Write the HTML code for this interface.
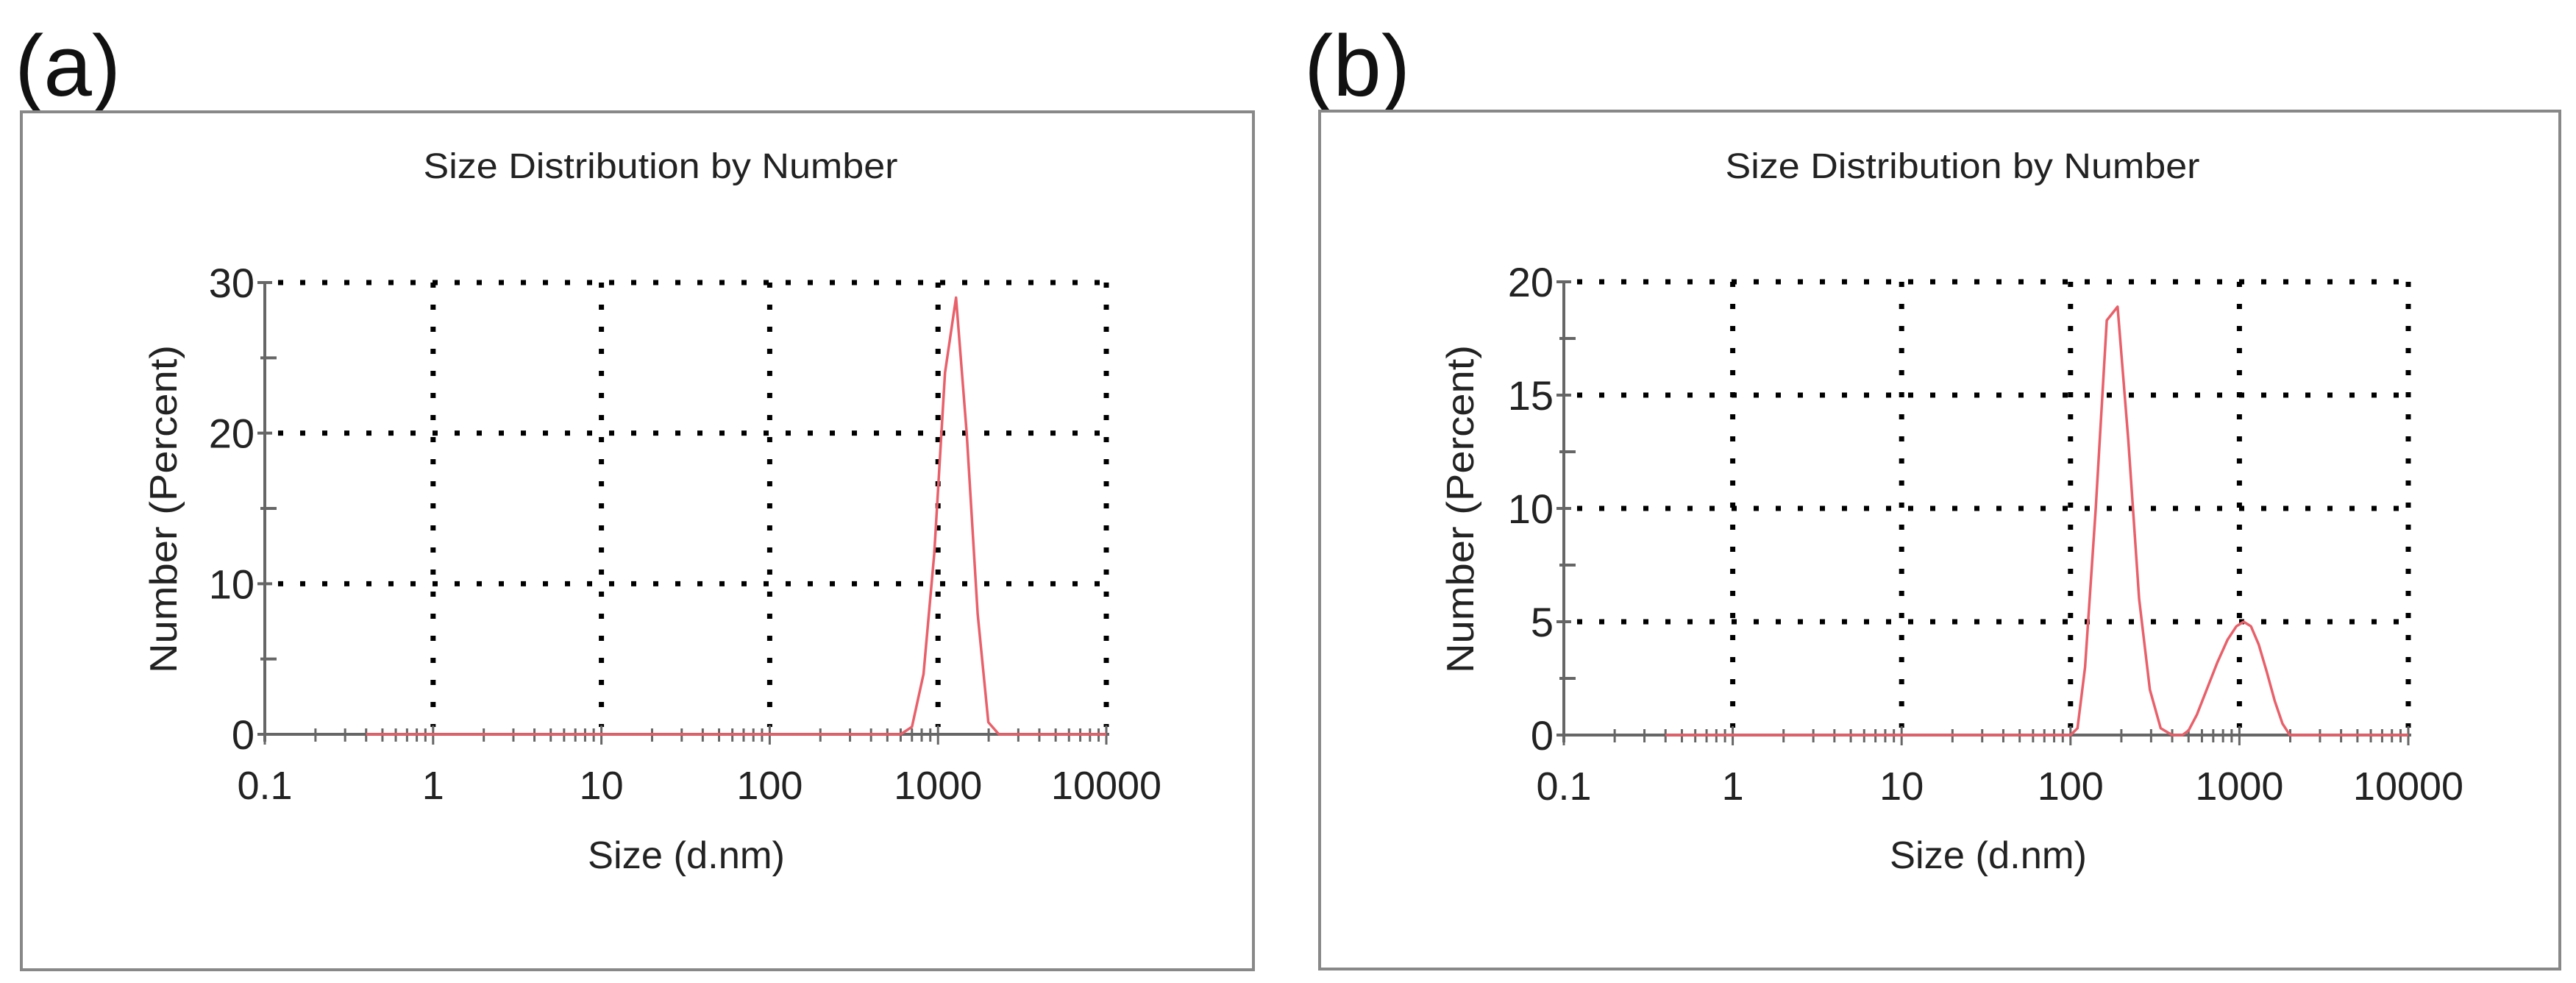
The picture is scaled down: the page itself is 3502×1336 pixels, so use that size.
<!DOCTYPE html>
<html><head><meta charset="utf-8">
<style>
html,body{margin:0;padding:0;background:#fff;}
svg{display:block;}
text{font-family:"Liberation Sans",Arial,sans-serif;fill:#222;}
</style></head>
<body>
<svg id="fig" width="3502" height="1336" viewBox="0 0 3502 1336" xmlns="http://www.w3.org/2000/svg">
  <text x="20" y="130" font-size="118" style="font-family:'Liberation Sans',sans-serif;fill:#111">(a)</text>
  <text x="1773" y="130" font-size="118" style="font-family:'Liberation Sans',sans-serif;fill:#111">(b)</text>
  <rect x="29" y="152" width="1675" height="1166" fill="#fff" stroke="#888" stroke-width="4"/>
  <rect x="1794" y="151" width="1686" height="1166" fill="#fff" stroke="#888" stroke-width="4"/>
  <g id="chartA"></g>
  <g id="chartB"></g>
</svg>
<script>
// Panel (a) data
const sizesA = [0.4, 600, 700, 820, 950, 1100, 1280, 1480, 1720, 1990, 2300, 10000];
const valuesA = [0, 0, 0.5, 4, 12, 24, 29, 20, 8, 0.8, 0, 0];
const yTicksA = [0, 10, 20, 30];
// Panel (b) data
const sizesB = [0.4, 100, 110, 122, 141, 164, 190, 220, 255, 295, 342, 400, 460, 500, 560, 640, 740, 850, 960, 1060, 1170, 1300, 1450, 1620, 1800, 1990, 10000];
const valuesB = [0, 0, 0.3, 3, 10, 18.3, 18.9, 13, 6, 2, 0.3, 0, 0, 0.2, 0.9, 2.0, 3.2, 4.2, 4.8, 5, 4.8, 4.0, 2.8, 1.5, 0.5, 0, 0];
const yTicksB = [0, 5, 10, 15, 20];
const xTickLabels = ["0.1", "1", "10", "100", "1000", "10000"];
const xTickValues = [0.1, 1, 10, 100, 1000, 10000];

const NS = "http://www.w3.org/2000/svg";
function mk(parent, tag, attrs, txt) {
  const e = document.createElementNS(NS, tag);
  for (const k in attrs) e.setAttribute(k, attrs[k]);
  if (txt !== undefined) e.textContent = txt;
  parent.appendChild(e);
  return e;
}

function drawChart(g, cfg, sizes, values, yTicks, yMax, yMinor, prefix) {
  const x0 = cfg.x0, x1 = cfg.x1, yb = cfg.yb, yt = cfg.yt;
  const xs = v => x0 + (Math.log10(v) + 1) / 5 * (x1 - x0);
  const ys = v => yb - v / yMax * (yb - yt);
  const t = mk(g, "text", {x: cfg.cx, y: 242, "font-size": 48, "text-anchor": "middle", textLength: 645, lengthAdjust: "spacingAndGlyphs"}, "Size Distribution by Number");
  
  
  const grid = mk(g, "g", {stroke: "#000", "stroke-width": 7, "stroke-dasharray": "7 23", fill: "none"});
  
  
  yTicks.forEach(v => { if (v > 0) mk(grid, "line", {x1: x0 + 18, x2: x1, y1: ys(v), y2: ys(v)}); });
  xTickValues.forEach(v => { if (v > 0.1) mk(grid, "line", {x1: xs(v), x2: xs(v), y1: yt, y2: yb - 10}); });
  const ax = mk(g, "g", {stroke: "#666", "stroke-width": 4, fill: "none"});
  
  
  mk(ax, "line", {x1: x0, x2: x0, y1: yt - 2, y2: yb + 10});
  mk(ax, "line", {x1: x0 - 10, x2: x1 + 4, y1: yb, y2: yb});
  yTicks.forEach(v => mk(ax, "line", {x1: x0 - 10, x2: x0 + 10, y1: ys(v), y2: ys(v)}));
  yMinor.forEach(v => mk(ax, "line", {x1: x0 - 6, x2: x0 + 16, y1: ys(v), y2: ys(v)}));
  for (let d = -1; d < 4; d++) for (let m = 2; m <= 9; m++) {
    const v = m * Math.pow(10, d);
    mk(ax, "line", {x1: xs(v), x2: xs(v), y1: yb - 8, y2: yb + 10, "stroke-width": 3});
  }
  xTickValues.forEach(v => mk(ax, "line", {x1: xs(v), x2: xs(v), y1: yb - 12, y2: yb + 14, "stroke-width": 3}));
  yTicks.forEach(v => {
    const lb = mk(g, "text", {x: x0 - 14, y: ys(v) + 20, "font-size": 56, "text-anchor": "end"}, String(v));
    
    
  });
  xTickValues.forEach((v, i) => {
    const lb = mk(g, "text", {x: xs(v), y: yb + 88, "font-size": 54, "text-anchor": "middle"}, xTickLabels[i]);
    
    
  });
  const xt = mk(g, "text", {x: cfg.xtx, y: 1180, "font-size": 52, "text-anchor": "middle", textLength: 268, lengthAdjust: "spacingAndGlyphs"}, "Size (d.nm)");
  
  
  const yl = mk(g, "text", {x: 0, y: 0, "font-size": 52, "text-anchor": "middle", textLength: 446, lengthAdjust: "spacingAndGlyphs", transform: "translate(" + (cfg.ytx) + ",692) rotate(-90)"}, "Number (Percent)");
  
  
  const pts = sizes.map((s, i) => xs(s).toFixed(1) + "," + ys(values[i]).toFixed(1)).join(" ");
  const pl = mk(g, "polyline", {points: pts, fill: "none", stroke: "#e8606a", "stroke-width": 3.5, "stroke-linejoin": "round"});
  
  
}

drawChart(document.getElementById("chartA"),
  {x0: 360, x1: 1504, yb: 998, yt: 384, cx: 898, xtx: 933, ytx: 240},
  sizesA, valuesA, yTicksA, 30, [5, 15, 25], "a");
drawChart(document.getElementById("chartB"),
  {x0: 2126, x1: 3274, yb: 999, yt: 383, cx: 2668, xtx: 2703, ytx: 2003},
  sizesB, valuesB, yTicksB, 20, [2.5, 7.5, 12.5, 17.5], "b");
</script>
</body></html>
